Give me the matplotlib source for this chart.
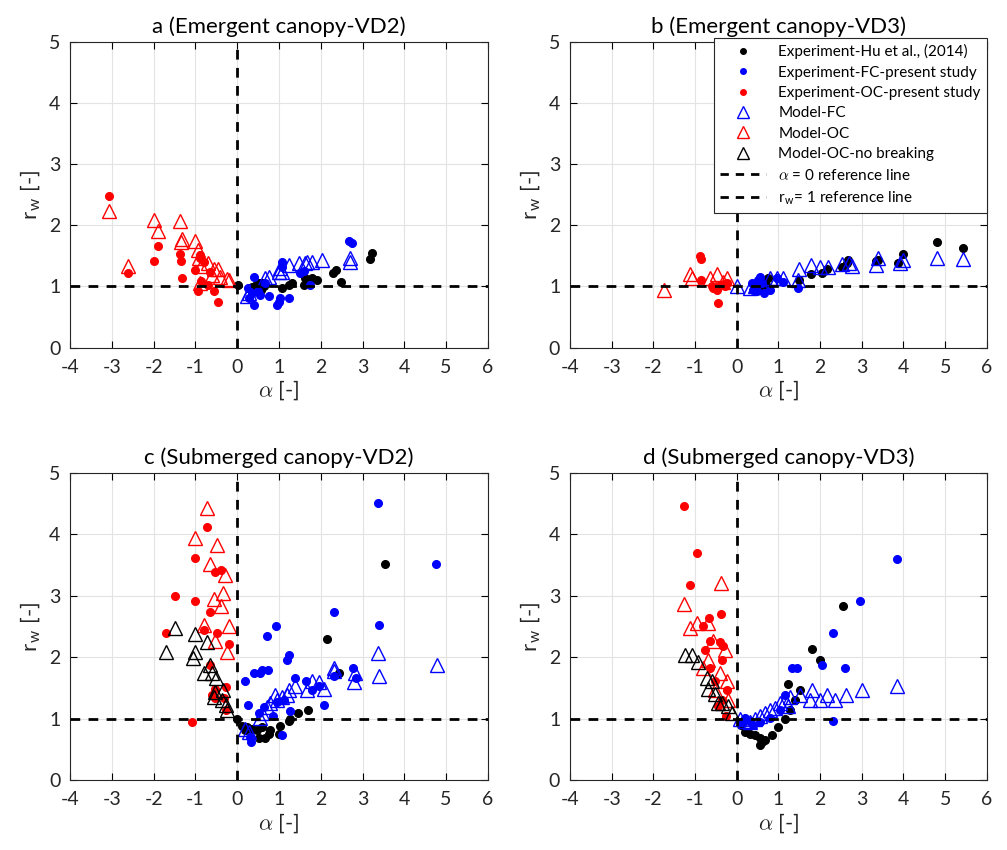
import matplotlib
matplotlib.use("Agg")
import matplotlib.pyplot as plt
from matplotlib.lines import Line2D

plt.rcParams['font.family'] = ['Lato', 'DejaVu Sans']
plt.rcParams['mathtext.fontset'] = 'cm'
plt.rcParams['axes.unicode_minus'] = False

# (alpha, r_w) pairs for each panel and series
a_hu = [(0.02, 1.03), (0.30, 0.96), (0.36, 0.99), (0.44, 1.03), (0.52, 1.06), (0.60, 1.06),
        (0.56, 0.95), (0.44, 0.95), (0.48, 0.99), (0.40, 0.92), (0.65, 1.00), (1.08, 0.98),
        (1.24, 1.03), (1.32, 1.06), (1.60, 1.03), (1.63, 1.13), (1.79, 1.14), (1.91, 1.11),
        (2.30, 1.22), (2.37, 1.27), (2.49, 1.08), (3.18, 1.45), (3.23, 1.55)]
a_fc_exp = [(0.26, 0.98), (0.29, 0.81), (0.41, 0.70), (0.41, 1.16), (0.55, 0.86), (0.67, 1.06),
            (0.77, 0.85), (1.00, 0.75), (0.96, 0.69), (1.03, 0.81), (1.24, 0.81), (1.08, 1.32),
            (1.08, 1.40), (1.51, 1.22), (1.60, 1.26), (1.75, 1.03), (2.68, 1.75), (2.75, 1.71),
            (0.35, 0.90), (0.50, 0.92)]
a_oc_exp = [(-3.07, 2.48), (-2.61, 1.22), (-1.99, 1.42), (-1.89, 1.66), (-1.36, 1.53), (-1.34, 1.42),
            (-1.31, 1.14), (-1.00, 1.27), (-0.89, 1.52), (-0.88, 1.47), (-0.86, 1.09), (-0.93, 0.93),
            (-0.69, 1.02), (-0.55, 0.93), (-0.47, 0.75), (-0.65, 1.24), (-0.80, 1.40)]
a_fc_model = [(0.24, 0.84), (0.29, 0.90), (0.67, 1.14), (0.77, 1.16), (1.00, 1.24), (1.08, 1.24),
              (1.03, 1.30), (1.24, 1.35), (1.48, 1.38), (1.63, 1.38), (1.67, 1.40), (1.79, 1.40),
              (2.03, 1.44), (2.70, 1.40), (2.70, 1.47)]
a_oc_model = [(-3.06, 2.24), (-2.61, 1.33), (-1.99, 2.08), (-1.89, 1.90), (-1.36, 2.07), (-1.31, 1.77),
              (-1.34, 1.73), (-1.00, 1.74), (-0.93, 1.59), (-0.91, 1.47), (-0.69, 1.38), (-0.86, 1.34),
              (-0.55, 1.29), (-0.45, 1.29), (-0.60, 1.18), (-0.41, 1.16), (-0.24, 1.12), (-0.88, 1.05),
              (-0.19, 1.10)]
a_nobreak = []

b_hu = [(0.50, 0.95), (0.55, 1.00), (0.60, 0.98), (0.65, 0.93), (0.70, 1.03), (0.74, 1.14),
        (1.49, 1.11), (1.77, 1.21), (2.04, 1.22), (2.16, 1.29), (2.52, 1.32), (2.64, 1.39),
        (2.66, 1.44), (3.35, 1.41), (3.38, 1.44), (3.88, 1.39), (3.98, 1.53), (4.80, 1.72),
        (5.42, 1.63)]
b_fc_exp = [(0.36, 1.06), (0.48, 0.92), (0.55, 1.16), (0.60, 1.05), (0.79, 0.95), (0.96, 1.14),
            (1.10, 1.08), (1.46, 0.98), (0.40, 0.95), (0.65, 0.90), (0.50, 1.10)]
b_oc_exp = [(-0.89, 1.50), (-0.86, 1.45), (-0.86, 1.11), (-0.46, 0.73), (-0.58, 0.98), (-0.48, 0.95),
            (-0.41, 1.03), (-0.29, 1.00), (-0.24, 1.06), (-0.60, 1.00)]
b_fc_model = [(0.00, 1.00), (0.31, 0.98), (0.45, 1.00), (0.60, 1.02), (0.79, 1.14), (0.96, 1.13),
              (1.10, 1.13), (1.46, 1.11), (1.49, 1.29), (1.77, 1.35), (1.99, 1.32), (2.18, 1.32),
              (2.52, 1.37), (2.70, 1.38), (2.76, 1.34), (3.35, 1.35), (3.38, 1.47), (3.91, 1.39),
              (3.98, 1.44), (4.80, 1.47), (5.42, 1.45)]
b_oc_model = [(-1.75, 0.94), (-1.13, 1.20), (-1.08, 1.13), (-0.65, 1.14), (-0.48, 1.20), (-0.34, 1.08),
              (-0.24, 1.13)]
b_nobreak = []

c_hu = [(0.00, 0.99), (0.12, 0.89), (0.19, 0.81), (0.24, 0.86), (0.36, 0.84), (0.48, 0.81),
        (0.53, 0.68), (0.60, 0.86), (0.67, 0.68), (0.77, 0.76), (0.79, 0.81), (1.00, 0.76),
        (1.03, 0.88), (1.24, 0.96), (1.27, 1.00), (1.46, 1.09), (1.70, 1.15), (2.15, 2.29),
        (2.44, 1.75), (3.54, 3.52)]
c_fc_exp = [(0.19, 1.62), (0.26, 1.23), (0.33, 0.63), (0.41, 1.74), (0.53, 1.10), (0.55, 1.74),
            (0.60, 1.80), (0.65, 1.19), (0.72, 2.34), (0.74, 1.79), (0.93, 2.50), (0.96, 1.27),
            (1.08, 0.73), (1.12, 1.30), (1.20, 1.96), (1.24, 2.03), (1.27, 1.12), (1.39, 1.66),
            (1.65, 1.62), (1.79, 1.46), (1.96, 1.53), (2.08, 1.22), (2.32, 1.69), (2.32, 2.73),
            (2.77, 1.83), (2.85, 1.67), (3.37, 4.50), (3.40, 2.53), (4.76, 3.52), (0.30, 0.70),
            (0.85, 1.05)]
c_oc_exp = [(-0.72, 4.12), (-1.00, 3.62), (-0.53, 3.39), (-0.38, 3.42), (-1.48, 3.00), (-1.00, 2.92),
            (-0.65, 2.73), (-1.70, 2.40), (-0.79, 2.45), (-0.48, 2.39), (-0.19, 2.22), (-1.08, 0.94),
            (-0.65, 1.87), (-0.53, 1.49), (-0.60, 1.38), (-0.26, 1.51), (-0.31, 1.33), (-0.26, 1.14),
            (-0.53, 1.33)]
c_fc_model = [(0.19, 0.84), (0.29, 0.78), (0.55, 1.02), (0.60, 1.10), (0.72, 1.19), (0.79, 1.25),
              (0.91, 1.38), (0.96, 1.30), (1.08, 1.35), (1.20, 1.38), (1.24, 1.46), (1.39, 1.53),
              (1.67, 1.46), (1.79, 1.62), (1.96, 1.59), (2.08, 1.49), (2.32, 1.78), (2.32, 1.83),
              (2.80, 1.59), (2.82, 1.74), (3.37, 2.07), (3.40, 1.70), (4.78, 1.87)]
c_oc_model = [(-0.72, 4.42), (-1.00, 3.93), (-0.48, 3.83), (-0.65, 3.52), (-0.29, 3.34), (-0.33, 3.05),
              (-0.55, 2.95), (-0.38, 2.84), (-0.79, 2.53), (-0.19, 2.50), (-0.53, 2.27), (-0.24, 2.08)]
c_nobreak = [(-1.48, 2.48), (-1.00, 2.37), (-0.72, 2.24), (-1.70, 2.08), (-1.00, 2.09), (-1.05, 1.98),
             (-0.65, 1.87), (-0.79, 1.74), (-0.60, 1.74), (-0.50, 1.66), (-0.53, 1.43), (-0.55, 1.35),
             (-0.33, 1.46), (-0.36, 1.31), (-0.26, 1.22), (-0.24, 1.14)]

d_hu = [(0.31, 0.76), (0.43, 0.73), (0.55, 0.68), (0.55, 0.57), (0.67, 0.65), (0.60, 0.62),
        (0.84, 0.73), (0.98, 0.86), (1.15, 1.00), (1.22, 1.57), (1.27, 1.14), (1.39, 1.30),
        (1.51, 1.46), (1.80, 2.14), (1.99, 1.95), (2.55, 2.84), (0.10, 0.90), (0.20, 0.78)]
d_fc_exp = [(0.19, 1.02), (0.31, 0.97), (0.55, 0.94), (0.79, 1.02), (1.03, 1.14), (1.15, 1.38),
            (1.32, 1.82), (1.44, 1.82), (2.04, 1.87), (2.30, 2.40), (2.30, 0.97), (2.59, 1.83),
            (2.95, 2.92), (3.84, 3.60), (0.10, 0.95), (0.40, 0.90)]
d_oc_exp = [(-1.27, 4.45), (-0.96, 3.70), (-1.13, 3.17), (-0.38, 2.71), (-0.67, 2.63), (-0.80, 2.50),
            (-0.65, 2.27), (-0.77, 2.11), (-0.41, 2.24), (-0.36, 1.95), (-0.65, 1.82), (-0.53, 1.62),
            (-0.24, 1.46), (-0.36, 1.30), (-0.46, 1.20), (-0.26, 1.05), (-0.34, 2.19)]
d_fc_model = [(0.07, 1.00), (0.19, 0.97), (0.31, 0.94), (0.43, 1.00), (0.55, 1.05), (0.67, 1.09),
              (0.79, 1.14), (0.91, 1.18), (1.03, 1.25), (1.15, 1.30), (1.27, 1.35), (1.22, 1.20),
              (1.51, 1.38), (1.75, 1.30), (1.80, 1.46), (2.00, 1.30), (2.16, 1.38), (2.35, 1.30),
              (2.61, 1.38), (3.00, 1.46), (3.84, 1.53)]
d_oc_model = [(-0.38, 3.21), (-1.27, 2.87), (-0.96, 2.55), (-1.13, 2.48), (-0.70, 2.55), (-0.58, 2.27),
              (-0.29, 2.11), (-0.70, 1.95), (-0.82, 1.82), (-0.41, 1.75), (-0.24, 1.62), (-0.53, 1.46),
              (-0.22, 1.30)]
d_nobreak = [(-1.25, 2.03), (-1.08, 2.03), (-0.94, 1.92), (-0.72, 1.67), (-0.60, 1.62), (-0.70, 1.49),
             (-0.53, 1.40), (-0.36, 1.25), (-0.46, 1.25), (-0.22, 1.20), (-0.12, 1.10)]

titles = ['a (Emergent canopy-VD2)', 'b (Emergent canopy-VD3)',
          'c (Submerged canopy-VD2)', 'd (Submerged canopy-VD3)']
panels = [
    (a_hu, a_fc_exp, a_oc_exp, a_fc_model, a_oc_model, a_nobreak),
    (b_hu, b_fc_exp, b_oc_exp, b_fc_model, b_oc_model, b_nobreak),
    (c_hu, c_fc_exp, c_oc_exp, c_fc_model, c_oc_model, c_nobreak),
    (d_hu, d_fc_exp, d_oc_exp, d_fc_model, d_oc_model, d_nobreak),
]
series_labels = ['Experiment-Hu et al., (2014)', 'Experiment-FC-present study',
                 'Experiment-OC-present study', 'Model-FC', 'Model-OC', 'Model-OC-no breaking']
series_colors = ['black', 'blue', 'red', 'blue', 'red', 'black']
series_markers = ['o', 'o', 'o', '^', '^', '^']

fig = plt.figure(figsize=(10.07, 8.5), dpi=100)
positions = [[0.0695, 0.591, 0.415, 0.360], [0.566, 0.591, 0.414, 0.360],
             [0.0695, 0.082, 0.415, 0.362], [0.566, 0.082, 0.414, 0.362]]

for i, (pos, title, data) in enumerate(zip(positions, titles, panels)):
    ax = fig.add_axes(pos)
    for pts, col, mk in zip(data, series_colors, series_markers):
        if not pts:
            continue
        xs = [p[0] for p in pts]
        ys = [p[1] for p in pts]
        if mk == 'o':
            ax.plot(xs, ys, 'o', color=col, ms=5.5, mec=col, zorder=3)
        else:
            ax.plot(xs, ys, '^', ms=10, mfc='none', mec=col, mew=1.0, zorder=4)
    ax.axvline(0, color='black', ls=(0, (3.5, 3)), lw=2, zorder=5)
    ax.axhline(1, color='black', ls=(0, (3.5, 3)), lw=2, zorder=5)
    ax.set_xlim(-4, 6)
    ax.set_ylim(0, 5)
    ax.set_xticks(range(-4, 7))
    ax.set_yticks(range(0, 6))
    ax.grid(True, color='#e3e3e3', lw=0.8)
    ax.set_axisbelow(True)
    ax.tick_params(direction='in', labelsize=14, length=5, top=True, right=True,
                   labelcolor='#262626')
    ax.tick_params(axis='x', pad=8)
    ax.tick_params(axis='y', pad=7)
    for s in ax.spines.values():
        s.set_color('#262626')
        s.set_linewidth(0.8)
    ax.set_title(title, fontsize=16, pad=6)
    ax.set_xlabel(r'$\alpha$ [-]', fontsize=16, color='#262626', labelpad=2)
    ax.set_ylabel(r'r$_\mathregular{w}$ [-]', fontsize=16, color='#262626', labelpad=4)

    if i == 1:
        handles = []
        for lab, col, mk in zip(series_labels, series_colors, series_markers):
            if mk == 'o':
                handles.append(Line2D([], [], ls='none', marker='o', color=col, ms=4, label=lab))
            else:
                handles.append(Line2D([], [], ls='none', marker='^', mfc='none', mec=col,
                                      ms=9, mew=1.0, label=lab))
        handles.append(Line2D([], [], color='black', ls=(0, (3, 2.5)), lw=2,
                              label=r'$\alpha$ = 0 reference line'))
        handles.append(Line2D([], [], color='black', ls=(0, (3, 2.5)), lw=2,
                              label=r'r$_\mathregular{w}$= 1 reference line'))
        leg = ax.legend(handles=handles, loc='upper right', fontsize=11, frameon=True,
                        fancybox=False, framealpha=1, edgecolor='#262626',
                        borderaxespad=0.0, handlelength=3, labelspacing=0.42,
                        bbox_to_anchor=(1.0, 1.012))
        leg.get_frame().set_linewidth(0.8)

fig.savefig('out.png', dpi=100)
